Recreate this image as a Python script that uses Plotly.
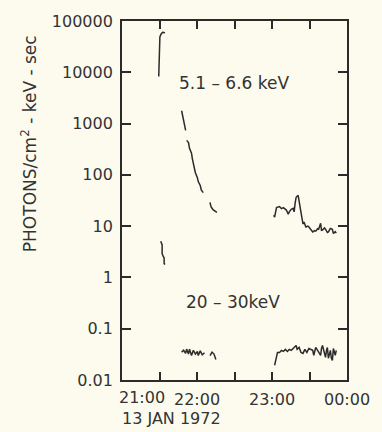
import plotly.graph_objects as go

# ---- data (minutes after 21:00 UT, 13 Jan 1972; photons/cm^2-keV-sec) ----
soft_a_min = [29.4, 29.6, 29.8, 30.0, 30.3, 31.3, 32.5, 34.4]
soft_a_val = [8300, 12000, 20000, 35000, 49000, 56000, 60000, 59000]

soft_b1_min = [47.7, 48.5, 49.3, 50.1, 50.9]
soft_b1_val = [1780, 1420, 1140, 915, 740]

soft_b2_min = [51.7, 53.2, 54.0, 55.6, 56.3, 57.1, 57.9, 58.7, 60.3, 61.0, 62.6, 63.4, 65.0]
soft_b2_val = [470, 425, 330, 265, 205, 163, 131, 110, 88, 74, 62, 51, 45]

soft_c_min = [70.4, 71.2, 72.8, 74.3, 75.9]
soft_c_val = [29, 24, 21, 19.5, 18.6]

soft_d_min = [121.3, 122.1, 123.6, 126.0, 127.6, 129.1, 131.5, 133.0, 133.8, 135.4, 136.9,
              137.7, 138.5, 139.3, 140.9, 141.7, 143.2, 144.8, 145.6, 147.1, 148.7, 149.5,
              151.0, 152.6, 154.2, 155.0, 156.5, 157.3, 158.9, 159.6, 160.4, 162.0, 162.8,
              164.3, 165.1, 166.7, 168.3, 169.1, 170.6, 171.4]
soft_d_val = [16.3, 15, 23, 24, 22, 23, 20.6, 17, 19, 21.3, 22.3,
              19, 28, 36.5, 40, 29, 18.6, 11, 12, 9.6, 10, 9.6,
              8.5, 7.7, 8.2, 8, 8.9, 8.7, 11.4, 8.3, 8.4, 9.2, 8.7,
              7.5, 7.7, 9, 8.7, 7.2, 7.8, 7.3]

hard_e_min = [31.0, 31.3, 32.1, 32.1, 32.1, 32.9, 33.7, 33.7, 34.4]
hard_e_val = [5.1, 4.9, 4.3, 3.5, 2.9, 2.6, 2.4, 1.86, 1.78]

hard_f_min = [47.7, 49.3, 50.9, 51.7, 53.2, 54.0, 55.6, 57.1, 58.7, 60.3, 61.0, 62.6, 64.2, 66.0]
hard_f_val = [0.035, 0.038, 0.033, 0.040, 0.032, 0.040, 0.030, 0.038, 0.032, 0.036, 0.030,
              0.037, 0.031, 0.034]

hard_g_min = [70.4, 72.0, 73.6, 75.1]
hard_g_val = [0.030, 0.035, 0.032, 0.025]

hard_h_min = [122.1, 122.9, 123.6, 124.4, 126.0, 127.6, 129.1, 130.7, 132.3, 133.8, 135.4,
              137.0, 138.5, 139.3, 140.1, 141.7, 143.2, 144.8, 146.3, 147.9, 149.5, 151.0,
              152.6, 153.4, 154.2, 155.0, 156.5, 157.3, 158.9, 159.6, 160.4, 162.0, 162.8,
              163.6, 164.3, 165.1, 165.9, 166.7, 167.5, 168.3, 169.1, 169.8, 170.6, 171.4]
hard_h_val = [0.0194, 0.0243, 0.0277, 0.0345, 0.0345, 0.0378, 0.0361, 0.0395, 0.0361, 0.0395,
              0.0378, 0.0412, 0.045, 0.047, 0.0395, 0.0431, 0.0345, 0.033, 0.0395, 0.0345,
              0.0412, 0.0395, 0.0378, 0.0303, 0.0395, 0.0431, 0.0378, 0.0345, 0.0303, 0.0412,
              0.047, 0.033, 0.0277, 0.0378, 0.0431, 0.0265, 0.0345, 0.0378, 0.0265, 0.024,
              0.0412, 0.0345, 0.0303, 0.0378]

y_tick_vals = [0.01, 0.1, 1, 10, 100, 1000, 10000, 100000]
y_tick_text = ["0.01", "0.1", "1", "10", "100", "1000", "10000", "100000"]
x_tick_vals = [21.5, 22.0, 22.5, 23.0, 23.5, 24.0]
x_tick_text = ["", "22:00", "", "23:00", "", "00:00"]

soft_label = "5.1 – 6.6 keV"
hard_label = "20 – 30keV"
date_label = "13 JAN 1972"
y_title = "PHOTONS/cm<sup>2</sup> - keV - sec"


def join(segments):
    xs, ys = [], []
    for mins, vals in segments:
        xs += [21 + m / 60 for m in mins] + [None]
        ys += list(vals) + [None]
    return xs, ys


sx, sy = join([(soft_a_min, soft_a_val), (soft_b1_min, soft_b1_val),
               (soft_b2_min, soft_b2_val), (soft_c_min, soft_c_val),
               (soft_d_min, soft_d_val)])
hx, hy = join([(hard_e_min, hard_e_val), (hard_f_min, hard_f_val),
               (hard_g_min, hard_g_val), (hard_h_min, hard_h_val)])

INK = "#2b2b2b"
BG = "#fcfbee"
FONT = "DejaVu Sans"

fig = go.Figure()
fig.add_trace(go.Scatter(x=sx, y=sy, mode="lines", name=soft_label,
                         line=dict(color=INK, width=1.5), connectgaps=False))
fig.add_trace(go.Scatter(x=hx, y=hy, mode="lines", name=hard_label,
                         line=dict(color=INK, width=1.5), connectgaps=False))

fig.update_layout(
    width=382, height=432,
    margin=dict(l=122, r=30, t=16, b=52),
    paper_bgcolor=BG, plot_bgcolor=BG,
    showlegend=False,
    font=dict(family=FONT, size=16, color="#333333"),
)
fig.update_xaxes(
    range=[21, 24], showgrid=False, zeroline=False,
    showline=True, linecolor=INK, linewidth=1.8, mirror="ticks",
    ticks="inside", ticklen=8, tickwidth=1.5, tickcolor=INK,
    tickvals=x_tick_vals, ticktext=x_tick_text, ticklabelstandoff=4,
    tickfont=dict(size=16),
)
fig.update_yaxes(
    type="log", range=[-2, 5], showgrid=False, zeroline=False,
    showline=True, linecolor=INK, linewidth=1.8, mirror="ticks",
    ticks="inside", ticklen=9, tickwidth=1.5, tickcolor=INK,
    tickvals=y_tick_vals, ticktext=y_tick_text, ticklabelstandoff=4,
    tickfont=dict(size=16),
)

fig.add_annotation(x=21.0, y=0, xref="x", yref="paper", text="21:00",
                   showarrow=False, xanchor="left", yanchor="top",
                   xshift=-5, yshift=-6, font=dict(size=16))
fig.add_annotation(x=22.487, y=3.79, xref="x", yref="y", text=soft_label,
                   showarrow=False, font=dict(size=17))
fig.add_annotation(x=22.474, y=-0.48, xref="x", yref="y", text=hard_label,
                   showarrow=False, font=dict(size=17))
fig.add_annotation(x=0, y=-0.107, xref="paper", yref="paper", text=date_label,
                   showarrow=False, xanchor="left", yanchor="middle",
                   xshift=-2, font=dict(size=16))
fig.add_annotation(x=-0.41, y=0.659, xref="paper", yref="paper", text=y_title,
                   showarrow=False, textangle=-90, xanchor="center", yanchor="middle",
                   font=dict(size=17))

fig.write_html("out.html")
